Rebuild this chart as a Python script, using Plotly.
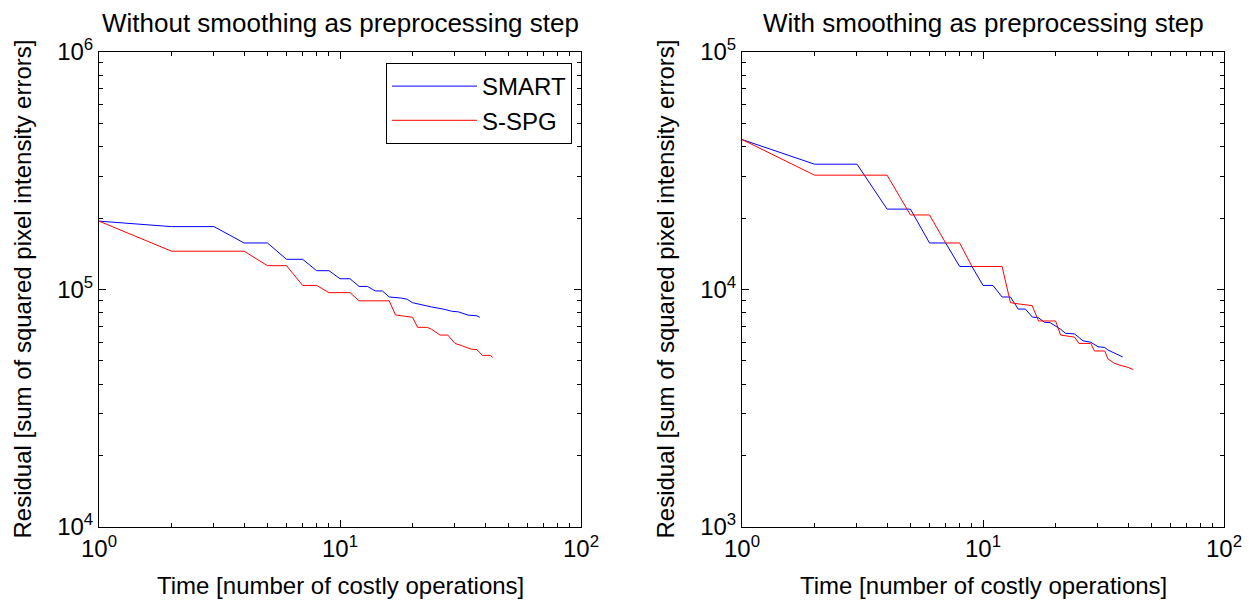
import plotly.graph_objects as go

# ---------------- data ----------------
# Left panel: without smoothing
smart_left_x = [1, 2, 3, 4, 5, 6, 7, 8, 9, 10, 11, 12, 13, 14, 15, 16, 18, 19, 20, 22, 24, 27, 29, 31, 34, 37, 38]
smart_left_y = [1.94e5, 1.84e5, 1.84e5, 1.57e5, 1.57e5, 1.34e5, 1.34e5, 1.20e5, 1.20e5, 1.11e5, 1.11e5,
                1.03e5, 1.03e5, 9.86e4, 9.86e4, 9.3e4, 9.2e4, 9.1e4, 8.8e4, 8.6e4, 8.44e4, 8.26e4,
                8.1e4, 8.05e4, 7.8e4, 7.75e4, 7.64e4]
sspg_left_x = [1, 2, 4, 5, 6, 7, 8, 9, 11, 12, 16, 17, 18, 20, 21, 23, 24, 26, 28, 30, 32, 35, 37, 39, 42, 43]
sspg_left_y = [1.94e5, 1.45e5, 1.45e5, 1.26e5, 1.26e5, 1.04e5, 1.04e5, 9.7e4, 9.7e4, 8.96e4, 8.96e4,
               7.82e4, 7.75e4, 7.64e4, 6.93e4, 6.93e4, 6.8e4, 6.43e4, 6.43e4, 5.93e4, 5.8e4, 5.61e4,
               5.58e4, 5.28e4, 5.28e4, 5.18e4]

# Right panel: with smoothing
smart_right_x = [1, 2, 3, 4, 5, 6, 7, 8, 9, 10, 11, 12, 13, 14, 15, 16, 17, 18, 19, 21, 22, 24, 26, 28,
                 30, 32, 33, 36, 38]
smart_right_y = [4.28e4, 3.37e4, 3.37e4, 2.18e4, 2.18e4, 1.57e4, 1.57e4, 1.25e4, 1.25e4, 1.04e4, 1.04e4,
                 9.3e3, 9.3e3, 8.27e3, 8.27e3, 7.66e3, 7.6e3, 7.28e3, 7.25e3, 6.8e3, 6.54e3, 6.5e3,
                 6.08e3, 6.0e3, 5.74e3, 5.7e3, 5.56e3, 5.35e3, 5.2e3]
sspg_right_x = [1, 2, 4, 5, 6, 7, 8, 9, 12, 13, 14, 16, 17, 20, 21, 22, 24, 25, 28, 29, 32, 33, 35, 37, 40, 42]
sspg_right_y = [4.28e4, 3.03e4, 3.03e4, 2.06e4, 2.06e4, 1.57e4, 1.57e4, 1.25e4, 1.25e4, 8.8e3, 8.7e3,
                8.55e3, 7.37e3, 7.37e3, 6.43e3, 6.4e3, 6.3e3, 5.93e3, 5.93e3, 5.51e3, 5.51e3, 5.1e3,
                4.9e3, 4.8e3, 4.7e3, 4.6e3]

series_names = ["SMART", "S-SPG"]
titles = ["Without smoothing as preprocessing step", "With smoothing as preprocessing step"]
x_label = "Time [number of costly operations]"
y_label = "Residual [sum of squared pixel intensity errors]"

x_tickvals = [1, 10, 100]
x_ticktext = ["10<sup>0</sup>", "10<sup>1</sup>", "10<sup>2</sup>"]
yl_tickvals = [1e4, 1e5, 1e6]
yl_ticktext = ["10<sup>4</sup>", "10<sup>5</sup>", "10<sup>6</sup>"]
yr_tickvals = [1e3, 1e4, 1e5]
yr_ticktext = ["10<sup>3</sup>", "10<sup>4</sup>", "10<sup>5</sup>"]

# ---------------- figure ----------------
W, H = 1253, 607
FONT = "Liberation Sans, Arial, sans-serif"
BLUE = "#0000ff"
RED = "#ff0000"

fig = go.Figure()
fig.add_trace(go.Scatter(x=smart_left_x, y=smart_left_y, mode="lines", name=series_names[0],
                         line=dict(color=BLUE, width=1), xaxis="x", yaxis="y"))
fig.add_trace(go.Scatter(x=sspg_left_x, y=sspg_left_y, mode="lines", name=series_names[1],
                         line=dict(color=RED, width=1), xaxis="x", yaxis="y"))
fig.add_trace(go.Scatter(x=smart_right_x, y=smart_right_y, mode="lines", name=series_names[0],
                         line=dict(color=BLUE, width=1), xaxis="x2", yaxis="y2", showlegend=False))
fig.add_trace(go.Scatter(x=sspg_right_x, y=sspg_right_y, mode="lines", name=series_names[1],
                         line=dict(color=RED, width=1), xaxis="x2", yaxis="y2", showlegend=False))

def px_x(p):
    return p / W

def px_y(p):
    return 1 - p / H

dom_l = [px_x(99), px_x(581)]
dom_r = [px_x(742), px_x(1224)]
dom_y = [px_y(527), px_y(52)]

axis_common = dict(
    type="log", showgrid=False, zeroline=False, showline=True, linecolor="black", linewidth=1,
    mirror="ticks", ticks="inside", ticklen=7, tickwidth=1, tickcolor="black",
    tickfont=dict(family=FONT, size=24, color="black"), automargin=False,
    minor=dict(ticks="inside", ticklen=4, tickwidth=1, tickcolor="black", showgrid=False, dtick="D1"),
)

fig.update_layout(
    width=W, height=H,
    margin=dict(l=0, r=0, t=0, b=0),
    paper_bgcolor="white", plot_bgcolor="white",
    font=dict(family=FONT, size=24, color="black"),
    xaxis=dict(domain=dom_l, range=[0, 2], tickvals=x_tickvals, ticktext=x_ticktext, anchor="y", **axis_common),
    yaxis=dict(domain=dom_y, range=[4, 6], tickvals=yl_tickvals, ticktext=yl_ticktext, anchor="x", **axis_common),
    xaxis2=dict(domain=dom_r, range=[0, 2], tickvals=x_tickvals, ticktext=x_ticktext, anchor="y2", **axis_common),
    yaxis2=dict(domain=dom_y, range=[3, 5], tickvals=yr_tickvals, ticktext=yr_ticktext, anchor="x2", **axis_common),
    showlegend=True,
    legend=dict(
        x=px_x(572), y=px_y(63), xanchor="right", yanchor="top",
        bgcolor="white", bordercolor="black", borderwidth=1,
        font=dict(family=FONT, size=24, color="black"),
        itemwidth=85, tracegroupgap=0,
    ),
)

annotations = []
for i, (t, dom) in enumerate(zip(titles, [dom_l, dom_r])):
    cx = (dom[0] + dom[1]) / 2
    annotations.append(dict(text=t, x=cx, y=px_y(40), xref="paper", yref="paper",
                            xanchor="center", yanchor="bottom", showarrow=False,
                            font=dict(family=FONT, size=26, color="black")))
    annotations.append(dict(text=x_label, x=cx, y=px_y(601), xref="paper", yref="paper",
                            xanchor="center", yanchor="bottom", showarrow=False,
                            font=dict(family=FONT, size=24, color="black")))
    annotations.append(dict(text=y_label, x=dom[0] - px_x(77), y=(dom_y[0] + dom_y[1]) / 2,
                            xref="paper", yref="paper", xanchor="center", yanchor="middle",
                            textangle=-90, showarrow=False,
                            font=dict(family=FONT, size=24, color="black")))
fig.update_layout(annotations=annotations)

fig.write_html("out.html")
